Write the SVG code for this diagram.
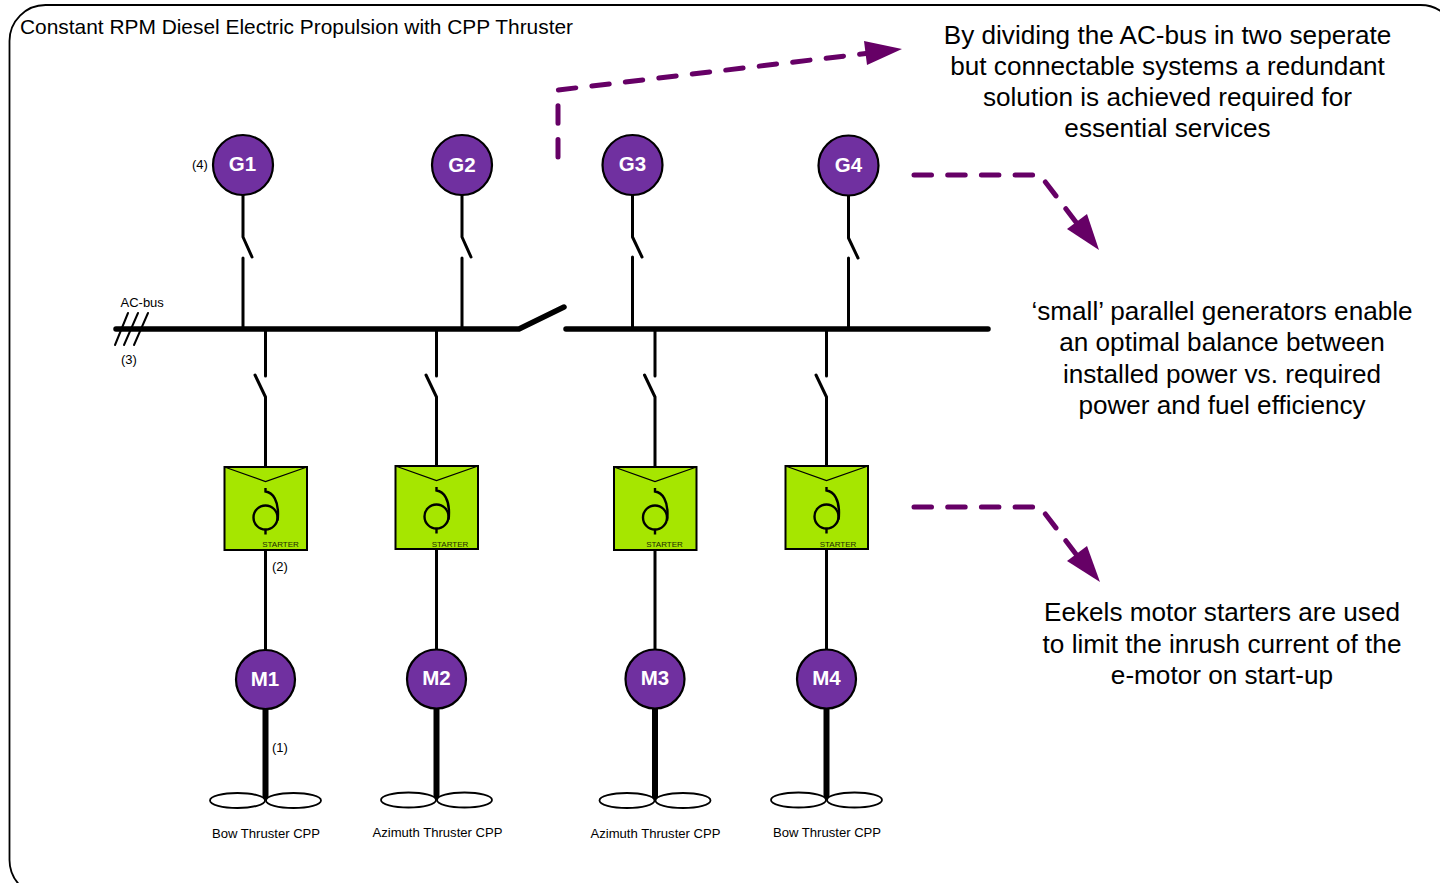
<svg xmlns="http://www.w3.org/2000/svg" width="1440" height="883" viewBox="0 0 1440 883">
<style>
text{font-family:"Liberation Sans",Arial,sans-serif;fill:#000}
.t{font-size:26.15px;text-anchor:middle}
.s{font-size:13.1px;text-anchor:middle}
.k{font-size:13px}
.n{font-size:20.5px;font-weight:bold;fill:#fff;text-anchor:middle}
.st{font-size:8px;text-anchor:middle;fill:#1c2a00}
.c{fill:#7030a0;stroke:#000;stroke-width:2.2}
.w{fill:none;stroke:#000;stroke-width:3;stroke-linecap:round;stroke-linejoin:round}
.b{fill:none;stroke:#000;stroke-width:5.5;stroke-linecap:round;stroke-linejoin:round}
.h{fill:none;stroke:#000;stroke-width:2;stroke-linecap:round}
.sh{fill:none;stroke:#000;stroke-width:6}
.p{fill:#fff;stroke:#000;stroke-width:1.8}
.box{fill:#a6e600;stroke:#000;stroke-width:2}
.thin{fill:none;stroke:#000;stroke-width:1.3}
.sym{fill:none;stroke:#000;stroke-width:2.4}
.d{fill:none;stroke:#660066;stroke-width:5;stroke-linecap:round;stroke-linejoin:round;stroke-dasharray:17.5 16.2}
.a{fill:#660066}
</style>
<defs>
<g id="starter">
<rect class="box" x="-41" y="0" width="82.500" height="83"/>
<path class="thin" d="M-41 0L0 14.500L41.500 0"/>
<circle class="sym" cx="0" cy="50.500" r="12"/>
<path class="sym" d="M0 62.500v5M0 21v3.500c8 1 12.500 10 12.500 22c0 4 0 5 -0.500 7"/>
</g>
<g id="prop">
<ellipse class="p" cx="-28" cy="0" rx="27.500" ry="7.500"/>
<ellipse class="p" cx="28" cy="0" rx="27.500" ry="7.500"/>
</g>
</defs>
<rect x="9.500" y="5" width="1447" height="891" rx="36" ry="36" fill="#fff" stroke="#000" stroke-width="1.800"/>
<text x="20" y="34" style="font-size:20.9px">Constant RPM Diesel Electric Propulsion with CPP Thruster</text>

<g id="connectors">
<path class="b" d="M116 329H519L564 307M566 329H988"/>
<path class="h" d="M115 345L128 313M124 345L138 313M134 345L148 313"/>
<path class="w" d="M243 194V237L252 257M243 258V329"/>
<path class="w" d="M462 194V237L471 257M462 258V329"/>
<path class="w" d="M632.500 194V237L642 257M632.500 257V329"/>
<path class="w" d="M848.500 194V238L858 258M848.500 258V329"/>
<path class="w" d="M265.500 329V376M255 375L265.500 397V467M265.500 549V651"/>
<path class="w" d="M436.500 329V376M426 375L436.500 397V466M436.500 549V650"/>
<path class="w" d="M655 329V376M644.500 375L655 397V467M655 549V650"/>
<path class="w" d="M826.500 329V376M816 375L826.500 397V466M826.500 549V650"/>
<path class="sh" d="M265.500 709V800M436.500 708V800M655 708V800M826.500 708V800"/>
<path class="d" d="M558 157V90L870 53"/>
<polygon class="a" points="864,41 902,49 867,65"/>
<path class="d" d="M914 175H1040L1079 226"/>
<polygon class="a" points="1067,229 1087,214 1099,250"/>
<path class="d" d="M914 507H1040L1079 558"/>
<polygon class="a" points="1067,561 1087,546 1100,582"/>
</g>

<g id="G1"><circle class="c" cx="243" cy="165" r="30"/><text class="n" x="242.500" y="171">G1</text></g>
<g id="G2"><circle class="c" cx="462" cy="165" r="30"/><text class="n" x="462" y="171.500">G2</text></g>
<g id="G3"><circle class="c" cx="632.500" cy="165" r="30"/><text class="n" x="632.500" y="171">G3</text></g>
<g id="G4"><circle class="c" cx="848.500" cy="165.500" r="30"/><text class="n" x="848.500" y="171.500">G4</text></g>

<g id="S1"><use href="#starter" x="265.500" y="467"/><text class="st" x="280.500" y="547">STARTER</text></g>
<g id="S2"><use href="#starter" x="436.500" y="466"/><text class="st" x="450" y="547">STARTER</text></g>
<g id="S3"><use href="#starter" x="655" y="467"/><text class="st" x="664.500" y="547">STARTER</text></g>
<g id="S4"><use href="#starter" x="826.500" y="466"/><text class="st" x="838" y="547">STARTER</text></g>

<g id="M1"><circle class="c" cx="265.500" cy="679.500" r="29.500"/><text class="n" x="265" y="685.500">M1</text></g>
<g id="M2"><circle class="c" cx="436.500" cy="679" r="29.500"/><text class="n" x="436.500" y="685">M2</text></g>
<g id="M3"><circle class="c" cx="655" cy="679" r="29.500"/><text class="n" x="655" y="685">M3</text></g>
<g id="M4"><circle class="c" cx="826.500" cy="679" r="29.500"/><text class="n" x="826.500" y="685">M4</text></g>

<g id="P1"><use href="#prop" x="265.500" y="800.500"/><text class="s" x="266" y="838">Bow Thruster CPP</text></g>
<g id="P2"><use href="#prop" x="436.500" y="800"/><text class="s" x="437.500" y="837">Azimuth Thruster CPP</text></g>
<g id="P3"><use href="#prop" x="655" y="800.500"/><text class="s" x="655.500" y="838">Azimuth Thruster CPP</text></g>
<g id="P4"><use href="#prop" x="826.500" y="800"/><text class="s" x="827" y="837">Bow Thruster CPP</text></g>

<g id="labels">
<text class="k" x="192" y="169">(4)</text>
<text class="k" x="120.500" y="307">AC-bus</text>
<text class="k" x="121" y="364">(3)</text>
<text class="k" x="272" y="571">(2)</text>
<text class="k" x="272" y="752">(1)</text>
<text class="t" x="1167.500" y="44">By dividing the AC-bus in two seperate</text>
<text class="t" x="1167.500" y="75">but connectable systems a redundant</text>
<text class="t" x="1167.500" y="106">solution is achieved required for</text>
<text class="t" x="1167.500" y="137">essential services</text>
<text class="t" x="1222" y="320">‘small’ parallel generators enable</text>
<text class="t" x="1222" y="351">an optimal balance between</text>
<text class="t" x="1222" y="383">installed power vs. required</text>
<text class="t" x="1222" y="414">power and fuel efficiency</text>
<text class="t" x="1222" y="621">Eekels motor starters are used</text>
<text class="t" x="1222" y="653">to limit the inrush current of the</text>
<text class="t" x="1222" y="684">e-motor on start-up</text>
</g>
</svg>
